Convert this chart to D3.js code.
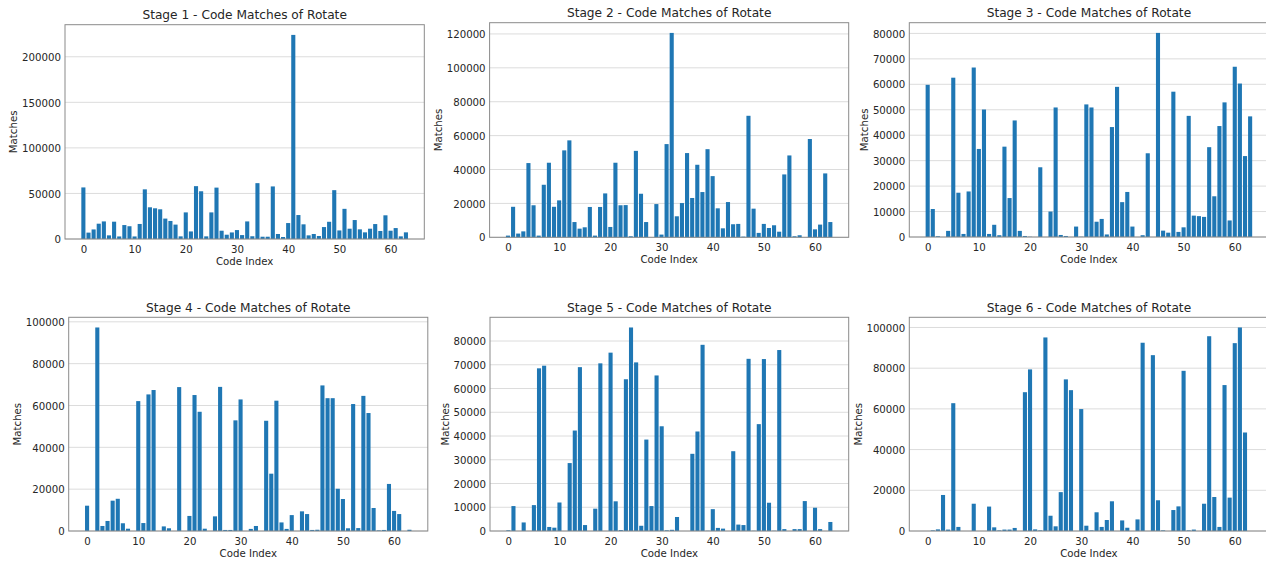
<!DOCTYPE html>
<html>
<head>
<meta charset="utf-8">
<script src="https://cdn.jsdelivr.net/npm/d3@7"></script>
<style>
  html, body { margin: 0; padding: 0; background: #fff; }
  svg { display: block; }
  text { font-family: "DejaVu Sans", sans-serif; fill: #262626; }
</style>
</head>
<body>
<svg id="chart" width="1266" height="561"></svg>
<script>
// Matches per code index (64 codes) for each stage of the Rotate transform
const codeIndex = d3.range(64);

const stage1 = [56600, 7000, 10500, 16800, 19300, 4000, 19000, 2800, 15300, 14000,
  2800, 16500, 54500, 34800, 33700, 32600, 22400, 19800, 15800, 2900,
  29200, 8300, 58000, 52400, 2900, 29200, 56400, 9100, 4700, 7200,
  9800, 4300, 19300, 3000, 61300, 2500, 2500, 57700, 5500, 2200,
  17500, 224000, 26300, 16100, 4000, 5500, 3300, 13100, 18900, 53600,
  9400, 33100, 11300, 20800, 10600, 7300, 11300, 16400, 8800, 26000,
  9100, 12000, 2900, 7300];

const stage2 = [1000, 18000, 2200, 3500, 43800, 18900, 1000, 31000, 44000, 18000,
  21800, 51300, 57200, 9000, 5100, 5900, 17900, 1000, 17900, 25900,
  6100, 44000, 18900, 19000, 600, 51000, 25700, 9000, 0, 19600,
  1600, 55000, 120600, 12400, 20200, 49700, 23200, 42800, 26700, 52000,
  36100, 17100, 5300, 20800, 7700, 7900, 400, 71700, 16900, 2600,
  7900, 5500, 7100, 3300, 37100, 48300, 600, 1200, 0, 58000,
  4700, 7500, 37700, 9000];

const stage3 = [59800, 11000, 300, 0, 2400, 62600, 17400, 1200, 17900, 66600,
  34600, 50100, 1200, 4800, 700, 35500, 15300, 45800, 2400, 400,
  100, 0, 27400, 0, 10000, 50900, 800, 400, 0, 4100,
  100, 52100, 50900, 6000, 7100, 1000, 43200, 59000, 13700, 17700,
  4100, 0, 700, 32900, 0, 80200, 2500, 1700, 57100, 2000,
  3800, 47600, 8400, 8200, 7900, 35300, 16000, 43600, 52900, 6500,
  66900, 60300, 31800, 47400];

const stage4 = [12100, 0, 97300, 2400, 4800, 14500, 15400, 3700, 1100, 0,
  62100, 3800, 65300, 67400, 0, 2200, 1300, 0, 68800, 0,
  7200, 65000, 57000, 1100, 0, 7000, 68900, 500, 500, 52900,
  62900, 0, 1000, 2400, 0, 52700, 27400, 62300, 4100, 1000,
  7600, 0, 9400, 8100, 500, 600, 69600, 63500, 63500, 20200,
  15300, 1300, 60700, 1400, 64600, 56400, 11000, 300, 500, 22500,
  9600, 8100, 0, 600];

const stage5 = [300, 10500, 0, 3600, 0, 10900, 68500, 69600, 1700, 1400,
  12000, 0, 28600, 42300, 69000, 2500, 0, 9400, 70600, 0,
  75100, 12500, 400, 63900, 85700, 71000, 2200, 38500, 10500, 65500,
  44100, 300, 500, 5900, 0, 0, 32500, 41900, 78400, 100,
  9200, 1300, 1000, 0, 33600, 2700, 2500, 72500, 100, 45000,
  72400, 11900, 100, 76200, 800, 0, 800, 800, 12600, 0,
  9800, 800, 0, 3800];

const stage6 = [0, 300, 800, 17700, 700, 62800, 2000, 0, 0, 13400,
  0, 0, 12000, 1800, 300, 700, 700, 1500, 0, 68200,
  79400, 800, 300, 95100, 7500, 2300, 19100, 74500, 69200, 0,
  59900, 2600, 300, 9200, 2000, 5400, 14600, 0, 5200, 1600,
  0, 5700, 92500, 0, 86400, 15100, 300, 0, 10300, 12100,
  78700, 300, 700, 0, 13400, 95700, 16700, 2000, 71700, 16400,
  92300, 100000, 48400, 0];

const stageTitles = ["Stage 1 - Code Matches of Rotate", "Stage 2 - Code Matches of Rotate",
  "Stage 3 - Code Matches of Rotate", "Stage 4 - Code Matches of Rotate",
  "Stage 5 - Code Matches of Rotate", "Stage 6 - Code Matches of Rotate"];

const xTicks = [0, 10, 20, 30, 40, 50, 60];
const yTicks1 = [0, 50000, 100000, 150000, 200000];
const yTicks2 = [0, 20000, 40000, 60000, 80000, 100000, 120000];
const yTicks3 = [0, 10000, 20000, 30000, 40000, 50000, 60000, 70000, 80000];
const yTicks4 = [0, 20000, 40000, 60000, 80000, 100000];
const yTicks5 = [0, 10000, 20000, 30000, 40000, 50000, 60000, 70000, 80000];
const yTicks6 = [0, 20000, 40000, 60000, 80000, 100000];

const xLabel = "Code Index";
const yLabel = "Matches";

// Panel frames (plot-area boxes in pixels)
const panels = [
  { values: stage1, ticks: yTicks1, box: { l: 65.0, t: 24.7, r: 424.3, b: 239.0 } },
  { values: stage2, ticks: yTicks2, box: { l: 489.6, t: 22.7, r: 848.7, b: 237.3 } },
  { values: stage3, ticks: yTicks3, box: { l: 909.3, t: 22.7, r: 1268.5, b: 237.0 } },
  { values: stage4, ticks: yTicks4, box: { l: 68.7, t: 317.3, r: 427.8, b: 531.0 } },
  { values: stage5, ticks: yTicks5, box: { l: 490.0, t: 317.3, r: 848.7, b: 531.0 } },
  { values: stage6, ticks: yTicks6, box: { l: 909.3, t: 317.3, r: 1268.5, b: 531.0 } }
];

const svg = d3.select("#chart");
const barColor = "#1f77b4";
const gridColor = "#dcdcdc";
const spineColor = "#8a8a8a";
const tickFont = 10.2;
const titleFont = 12.2;

panels.forEach((p, i) => {
  const { l, t, r, b } = p.box;
  const barW = 0.8;
  const n = p.values.length;
  const span = (n - 1) + barW;
  const x = d3.scaleLinear()
    .domain([-barW / 2 - 0.05 * span, n - 1 + barW / 2 + 0.05 * span])
    .range([l, r]);
  const yMax = d3.max(p.values) * 1.05;
  const y = d3.scaleLinear().domain([0, yMax]).range([b, t]);

  const g = svg.append("g");

  // horizontal grid
  g.append("g").selectAll("line").data(p.ticks).join("line")
    .attr("x1", l).attr("x2", r)
    .attr("y1", d => y(d)).attr("y2", d => y(d))
    .attr("stroke", gridColor).attr("stroke-width", 1);

  // bars
  g.append("g").selectAll("rect").data(codeIndex).join("rect")
    .attr("x", d => x(d - barW / 2))
    .attr("width", x(barW) - x(0))
    .attr("y", d => y(p.values[d]))
    .attr("height", d => y(0) - y(p.values[d]))
    .attr("fill", barColor);

  // frame
  g.append("rect")
    .attr("x", l).attr("y", t).attr("width", r - l).attr("height", b - t)
    .attr("fill", "none").attr("stroke", spineColor).attr("stroke-width", 1);

  // x axis (labels only, no tick marks)
  const xAxis = d3.axisBottom(x).tickValues(xTicks).tickSize(0).tickPadding(0).tickFormat(d3.format("d"));
  const xg = g.append("g").attr("transform", `translate(0,${b})`).call(xAxis);
  xg.select(".domain").remove();
  xg.selectAll("text").attr("y", 13.5).attr("dy", null)
    .style("font-size", tickFont + "px").style("font-family", "DejaVu Sans").attr("fill", "#262626");

  // y axis
  const yAxis = d3.axisLeft(y).tickValues(p.ticks).tickSize(0).tickPadding(4).tickFormat(d3.format("d"));
  const yg = g.append("g").attr("transform", `translate(${l},0)`).call(yAxis);
  yg.select(".domain").remove();
  yg.selectAll("text").attr("dy", "0.36em")
    .style("font-size", tickFont + "px").style("font-family", "DejaVu Sans").attr("fill", "#262626");

  let maxW = 0;
  yg.selectAll("text").each(function () { maxW = Math.max(maxW, this.getComputedTextLength()); });

  // titles and axis labels
  g.append("text")
    .attr("x", (l + r) / 2).attr("y", t - 5.3)
    .attr("text-anchor", "middle")
    .style("font-size", titleFont + "px")
    .text(stageTitles[i]);

  g.append("text")
    .attr("x", (l + r) / 2).attr("y", b + 26)
    .attr("text-anchor", "middle")
    .style("font-size", tickFont + "px")
    .text(xLabel);

  const lx = l - 4 - maxW - 4.7;
  g.append("text")
    .attr("transform", `translate(${lx},${(t + b) / 2}) rotate(-90)`)
    .attr("text-anchor", "middle")
    .style("font-size", tickFont + "px")
    .text(yLabel);
});
</script>
</body>
</html>
